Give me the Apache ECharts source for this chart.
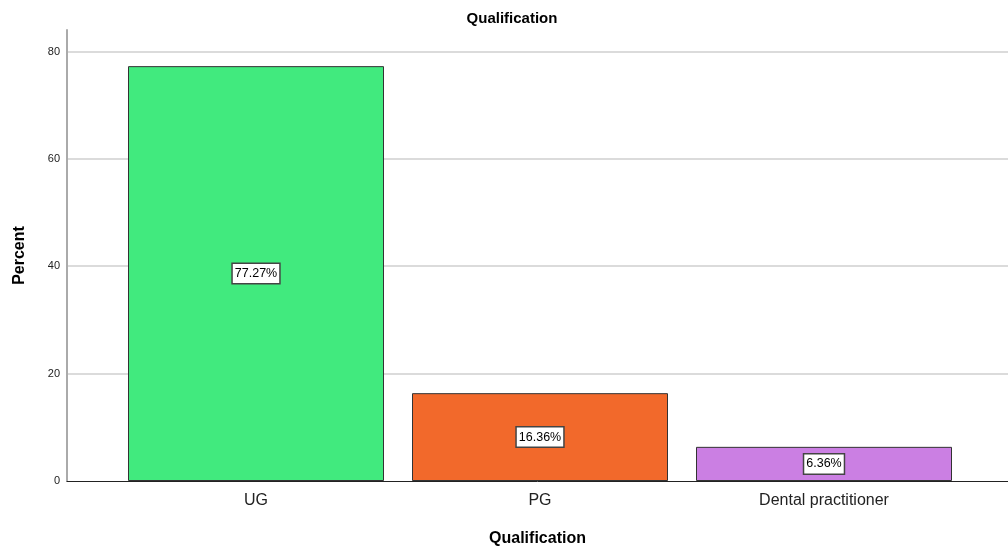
<!DOCTYPE html>
<html>
<head>
<meta charset="utf-8">
<script src="https://cdn.jsdelivr.net/npm/echarts@6/dist/echarts.min.js"></script>
<style>
  html, body { margin: 0; padding: 0; background: #fff; }
  #chart { width: 1008px; height: 547px; }
</style>
</head>
<body>
<div id="chart"></div>
<script>
// Qualification breakdown (percent of respondents)
const categories = ['UG', 'PG', 'Dental practitioner'];
const percents = [77.27, 16.36, 6.36];
const barColors = ['#41EA7E', '#F2692B', '#CB7FE3'];
const yTicks = [0, 20, 40, 60, 80];

const FONT = '"Liberation Sans", Arial, sans-serif';
const Y_MAX = 84;

const chart = echarts.init(document.getElementById('chart'));

chart.setOption({
  animation: false,
  backgroundColor: '#ffffff',
  title: {
    text: 'Qualification',
    left: 507,
    textAlign: 'center',
    top: 6,
    textStyle: { fontFamily: FONT, fontSize: 15, fontWeight: 'bold', color: '#000' }
  },
  grid: [
    // frame: value axis, gridlines and baseline
    { left: 67, right: 0, top: 30, bottom: 66, outerBoundsMode: 'none', containLabel: false },
    // bars
    { left: 114, right: 42, top: 30, bottom: 66, outerBoundsMode: 'none', containLabel: false }
  ],
  xAxis: [
    {
      gridIndex: 0, type: 'category', data: categories,
      axisLine: { lineStyle: { color: '#222', width: 1 } },
      axisTick: { show: false }, axisLabel: { show: false },
      name: 'Qualification', nameLocation: 'middle', nameGap: 50,
      nameTextStyle: { fontFamily: FONT, fontSize: 16, fontWeight: 'bold', color: '#000' }
    },
    {
      gridIndex: 1, type: 'category', data: categories,
      axisLine: { show: false }, axisTick: { show: false },
      axisLabel: { fontFamily: FONT, fontSize: 16, color: '#222', margin: 12 }
    }
  ],
  yAxis: [
    {
      gridIndex: 0, type: 'value', min: 0, max: Y_MAX,
      axisLine: { show: true, lineStyle: { color: '#aaa', width: 2 } },
      axisTick: { show: false },
      axisLabel: {
        fontFamily: FONT, fontSize: 11, color: '#222', margin: 7,
        padding: [3, 0, 0, 0],
        customValues: yTicks
      },
      splitLine: { show: false },
      name: 'Percent', nameLocation: 'middle', nameGap: 39, nameRotate: 90,
      nameTextStyle: { fontFamily: FONT, fontSize: 16, fontWeight: 'bold', color: '#000' }
    },
    {
      gridIndex: 1, type: 'value', min: 0, max: Y_MAX, show: false
    }
  ],
  series: [
    {
      // horizontal gridlines at the labelled ticks, kept behind the bars
      type: 'line',
      xAxisIndex: 0, yAxisIndex: 0,
      data: [],
      silent: true,
      z: 0,
      markLine: {
        silent: true,
        z: 0,
        symbol: 'none',
        label: { show: false },
        lineStyle: { color: '#cfcfcf', width: 1.5, type: 'solid' },
        data: yTicks.filter(v => v > 0).map(v => ({ yAxis: v }))
      }
    },
    {
      type: 'bar',
      xAxisIndex: 1, yAxisIndex: 1,
      barWidth: 256,
      z: 10,
      data: percents.map((v, i) => ({
        value: v,
        itemStyle: { color: barColors[i], borderColor: '#333', borderWidth: 1 }
      })),
      label: {
        show: true,
        position: 'inside',
        formatter: p => p.value.toFixed(2) + '%',
        fontFamily: FONT, fontSize: 12.5, color: '#000',
        backgroundColor: '#fff', borderColor: '#444', borderWidth: 1.5,
        padding: [4, 2, 2, 2]
      }
    }
  ]
});
</script>
</body>
</html>
